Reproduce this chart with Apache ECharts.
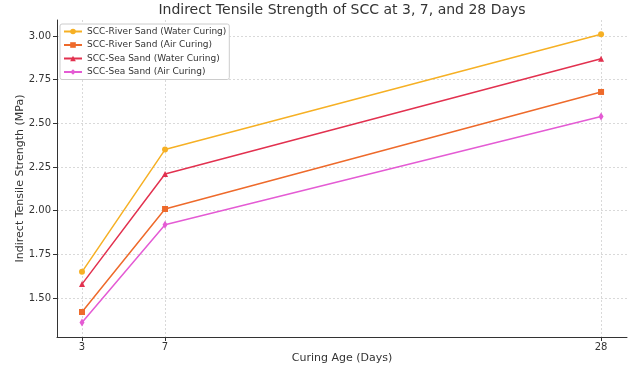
<!DOCTYPE html>
<html><head><meta charset="utf-8">
<script src="https://cdn.jsdelivr.net/npm/echarts@6/dist/echarts.min.js"></script>
<style>html,body{margin:0;padding:0;background:#fff}#c{width:640px;height:371px}</style>
</head><body><div id="c"></div>
<script>
const ages = [3, 7, 28];
const yTicks = [1.50, 1.75, 2.00, 2.25, 2.50, 2.75, 3.00];
const seriesNames = ["SCC-River Sand (Water Curing)", "SCC-River Sand (Air Curing)", "SCC-Sea Sand (Water Curing)", "SCC-Sea Sand (Air Curing)"];
const riverWater = [1.65, 2.35, 3.01];
const riverAir = [1.42, 2.01, 2.68];
const seaWater = [1.58, 2.21, 2.87];
const seaAir = [1.36, 1.92, 2.54];
const colors = ["#f6b024", "#ee6a2b", "#e2314f", "#e45bd4"];
const symbols = ["circle", "rect", "triangle", "diamond"];
const values = [riverWater, riverAir, seaWater, seaAir];

const font = "DejaVu Sans";
const chart = echarts.init(document.getElementById('c'));
const gridLine = {show: true, lineStyle: {color: '#d0d0d0', type: [2, 2], width: 0.8}};
chart.setOption({
  animation: false,
  title: {text: "Indirect Tensile Strength of SCC at 3, 7, and 28 Days", left: 337, textAlign: 'center', top: -2,
    textStyle: {fontFamily: font, fontSize: 14, fontWeight: 'normal', color: '#333'}},
  grid: {left: 57, right: 13, top: 20, bottom: 34},
  legend: {
    left: 60, top: 24, orient: 'vertical', itemGap: 4.5, itemWidth: 18, itemHeight: 7,
    padding: [3, 3, 3, 3], borderColor: '#ccc', borderWidth: 1, borderRadius: 2, backgroundColor: '#fff',
    textStyle: {fontFamily: font, fontSize: 9, color: '#333'},
    data: seriesNames
  },
  xAxis: {
    type: 'value', min: 1.796, max: 29.25,
    name: "Curing Age (Days)", nameLocation: 'middle', nameGap: 16, nameMoveOverlap: false,
    nameTextStyle: {fontFamily: font, fontSize: 11, color: '#333'},
    axisLine: {show: true, onZero: false, lineStyle: {color: '#333', width: 1}},
    axisTick: {show: true, customValues: ages, length: 4, lineStyle: {color: '#333'}},
    axisLabel: {customValues: ages, fontFamily: font, fontSize: 10, color: '#333', margin: 5},
    splitLine: gridLine
  },
  yAxis: {
    type: 'value', min: 1.277, max: 3.092,
    name: "Indirect Tensile Strength (MPa)", nameLocation: 'middle', nameGap: 31, nameMoveOverlap: false,
    nameTextStyle: {fontFamily: font, fontSize: 11, color: '#333'},
    axisLine: {show: true, lineStyle: {color: '#333', width: 1}},
    axisTick: {show: true, customValues: yTicks, length: 4, lineStyle: {color: '#333'}},
    axisLabel: {customValues: yTicks, fontFamily: font, fontSize: 10, color: '#333', margin: 6,
      formatter: v => v.toFixed(2)},
    splitLine: gridLine
  },
  series: values.map((vals, i) => ({
    name: seriesNames[i], type: 'line',
    data: vals.map((v, j) => [ages[j], v]),
    symbol: symbols[i], symbolSize: symbols[i] === 'diamond' ? [5, 8] : 6,
    lineStyle: {color: colors[i], width: 1.5},
    itemStyle: {color: colors[i]}
  }))
});
</script></body></html>
